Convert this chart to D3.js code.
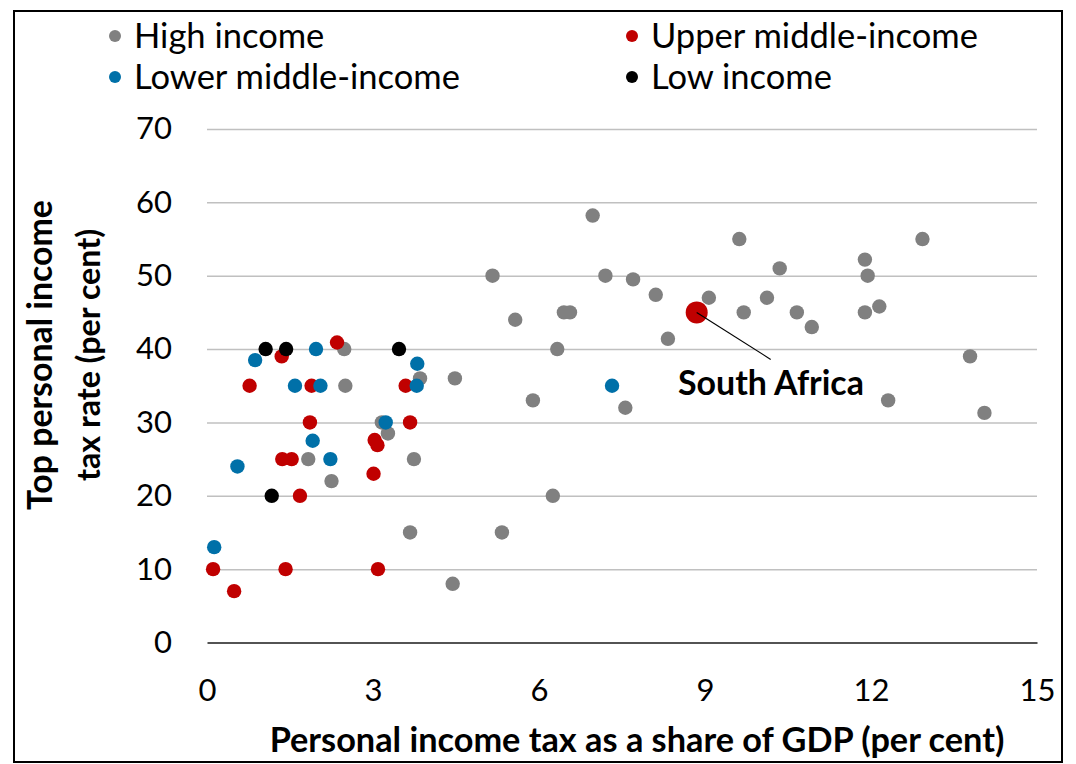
<!DOCTYPE html>
<html><head><meta charset="utf-8">
<script src="https://cdn.jsdelivr.net/npm/d3@7"></script>
<style>
html,body{margin:0;padding:0;background:#fff;}
svg{display:block;font-family:Lato,"Open Sans",sans-serif;}
</style></head>
<body>
<svg id="chart" width="1076" height="764"></svg>
<script>
// ---- data ----
const xTicks = [0, 3, 6, 9, 12, 15];
const yTicks = [0, 10, 20, 30, 40, 50, 60, 70];
const seriesNames = ["High income", "Upper middle-income", "Lower middle-income", "Low income"];
const seriesColors = ["#808080", "#C00000", "#0070A8", "#000000"];

const highIncome = [
  [1.83,25],[2.25,22],[2.48,40],[2.50,35],[3.16,30],[3.27,28.5],[3.67,15],[3.74,25],[3.85,36],[4.48,36],[4.44,8],
  [6.97,58.2],[5.16,50],[7.20,50],[7.70,49.5],[8.11,47.4],[9.07,47],[5.57,44],[6.45,45],[6.56,45],[8.33,41.4],
  [6.33,40],[5.89,33],[7.56,32],[6.25,20],[5.33,15],[9.62,55],[10.35,51],[9.70,45],[10.12,47],[10.66,45],
  [10.93,43],[11.89,52.2],[11.94,50],[11.89,45],[12.15,45.8],[12.93,55],[13.79,39],[12.31,33],[14.05,31.3]
];
const upperMiddle = [
  [1.35,39],[2.35,40.9],[0.77,35],[1.89,35],[3.59,35],[1.86,30],[3.67,30],[3.03,27.6],[3.08,26.9],
  [1.36,25],[1.53,25],[3.01,23],[1.68,20],[0.11,10],[1.42,10],[3.09,10],[0.49,7]
];
const lowerMiddle = [
  [0.87,38.5],[1.97,40],[3.80,38],[1.59,35],[2.05,35],[3.79,35],[3.23,30],[1.91,27.5],[2.23,25],[0.55,24],[0.13,13],[7.32,35]
];
const lowIncome = [[1.06,40],[1.43,40],[3.47,40],[1.17,20]];
const southAfrica = {label: "South Africa", x: 8.85, y: 45};

const xTitle = "Personal income tax as a share of GDP (per cent)";
const yTitle = ["Top personal income", "tax rate (per cent)"];

// ---- drawing ----
const svg = d3.select("#chart");
const x = d3.scaleLinear().domain([0, 15]).range([207, 1037]);
const y = d3.scaleLinear().domain([0, 70]).range([642.5, 129]);

// frame
svg.append("rect").attr("x", 14).attr("y", 11).attr("width", 1048).attr("height", 751)
  .attr("fill", "none").attr("stroke", "#000").attr("stroke-width", 2);

// fit text helper
function fit(sel, width) {
  const w = sel.node().getComputedTextLength();
  const fs = parseFloat(sel.attr("font-size"));
  const nfs = fs * width / w;
  sel.attr("font-size", nfs.toFixed(2));
  return nfs;
}

// y axis with gridlines
const yAxis = svg.append("g").attr("transform", `translate(${x(0)},0)`)
  .call(d3.axisLeft(y).tickValues(yTicks).tickSize(-(x(15) - x(0))).tickPadding(35));
yAxis.select(".domain").remove();
yAxis.selectAll(".tick line").attr("stroke", d => d === 0 ? "none" : "#c0c0c0").attr("stroke-width", 1.5);
yAxis.selectAll(".tick text").attr("font-size", 31).attr("fill", "#000").attr("font-family", "Lato");

// x axis
const xAxis = svg.append("g").attr("transform", `translate(0,${y(0)})`)
  .call(d3.axisBottom(x).tickValues(xTicks).tickSize(0).tickSizeOuter(0).tickPadding(36));
xAxis.select(".domain").attr("stroke", "#1a1a1a").attr("stroke-width", 1.5);
xAxis.selectAll(".tick text").attr("font-size", 31).attr("fill", "#000").attr("font-family", "Lato");

// points
const allSeries = [highIncome, upperMiddle, lowerMiddle, lowIncome];
allSeries.forEach((pts, i) => {
  svg.append("g").selectAll("circle").data(pts).join("circle")
    .attr("cx", d => x(d[0])).attr("cy", d => y(d[1])).attr("r", 7.2)
    .attr("fill", seriesColors[i]);
});

// South Africa highlight
svg.append("circle").attr("cx", x(southAfrica.x)).attr("cy", y(southAfrica.y)).attr("r", 11)
  .attr("fill", "#C00000");
svg.append("line")
  .attr("x1", x(southAfrica.x)).attr("y1", y(southAfrica.y))
  .attr("x2", x(southAfrica.x) + 74).attr("y2", y(southAfrica.y) + 47)
  .attr("stroke", "#000").attr("stroke-width", 1.2);
const saText = svg.append("text").attr("x", 678).attr("y", 395)
  .attr("font-size", 28).attr("font-weight", "bold").text(southAfrica.label);
fit(saText, 186);

// legend
const legendPos = [[115, 36], [632, 36], [115, 77], [632, 77]];
let legendFs = 28;
seriesNames.forEach((name, i) => {
  const g = svg.append("g").attr("transform", `translate(${legendPos[i][0]},${legendPos[i][1]})`);
  g.append("circle").attr("r", 6).attr("fill", seriesColors[i]);
  const t = g.append("text").attr("x", 19).attr("dy", "0.36em").attr("font-size", 28).text(name);
  if (i === 1) legendFs = fit(t, 327);
});
svg.selectAll("g text").filter(function(){ return seriesNames.includes(this.textContent); })
  .attr("font-size", legendFs.toFixed(2));

// axis titles
const xt = svg.append("text").attr("x", 637).attr("y", 752).attr("text-anchor", "middle")
  .attr("font-size", 28).attr("font-weight", "bold").text(xTitle);
fit(xt, 735);

const yt1 = svg.append("text").attr("transform", "translate(52,355) rotate(-90)")
  .attr("text-anchor", "middle").attr("font-size", 28).attr("font-weight", "bold").text(yTitle[0]);
fit(yt1, 310);
const yt2 = svg.append("text").attr("transform", "translate(100,355) rotate(-90)")
  .attr("text-anchor", "middle").attr("font-size", 28).attr("font-weight", "bold").text(yTitle[1]);
fit(yt2, 252);
</script>
</body></html>
